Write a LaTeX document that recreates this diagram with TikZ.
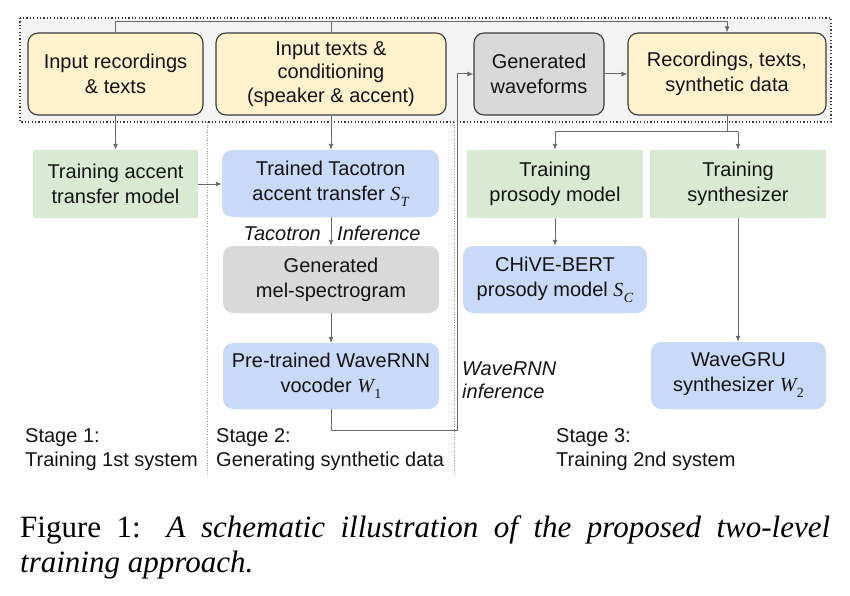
\documentclass[tikz,border=0pt]{standalone}
\usepackage{fontspec}
\setmainfont{Liberation Sans}
\newfontfamily\timesf{Liberation Serif}
\usetikzlibrary{arrows.meta}
\definecolor{yel}{HTML}{FFF2CC}
\definecolor{gry}{HTML}{D9D9D9}
\definecolor{grn}{HTML}{D9EAD3}
\definecolor{blu}{HTML}{C9DAF8}
\definecolor{cont}{HTML}{F3F3F3}
\definecolor{bord}{HTML}{3A3A3A}
\definecolor{arrc}{HTML}{6B6B6B}
\definecolor{txt}{HTML}{141414}
\newcommand\mvar[2]{{\timesf\itshape #1}\kern0.5pt\raisebox{-6pt}{\fontsize{14}{14}\selectfont\timesf\itshape #2}}
\newcommand\mvarn[2]{{\timesf\itshape #1}\kern0.5pt\raisebox{-6pt}{\fontsize{14}{14}\selectfont\timesf #2}}
\begin{document}
\begin{tikzpicture}[x=1pt,y=-1pt,
  boxbase/.style={align=center, inner sep=0pt, font=\fontsize{20}{25}\selectfont, text=txt},
  ybox/.style={boxbase, draw=bord, line width=1.1pt, fill=yel, rounded corners=10pt},
  graybox/.style={boxbase, draw=bord, line width=1.1pt, fill=gry, rounded corners=10pt},
  melbox/.style={boxbase, fill=gry, rounded corners=10pt},
  greenbox/.style={boxbase, fill=grn},
  bluebox/.style={boxbase, fill=blu, rounded corners=10pt},
  conn/.style={draw=arrc, line width=1pt},
  arr/.style={conn, -{Latex[length=6pt,width=5pt]}},
  lbl/.style={inner sep=0pt, font=\fontsize{20}{24}\selectfont\itshape, text=txt},
  stagelbl/.style={inner sep=0pt, align=left, anchor=north west, font=\fontsize{20}{24}\selectfont, text=txt},
  sep/.style={draw=gray!80, line width=0.7pt, dash pattern=on 1pt off 1.6pt},
  contbox/.style={draw=bord, fill=cont, line width=1.2pt, dash pattern=on 1.2pt off 2.2pt}
]
\useasboundingbox (0,0) rectangle (850,596);

% container
\path[contbox] (20,18) rectangle (831,122);

% separators
\draw[sep] (207.5,122) -- (207.5,474);
\draw[sep] (454.5,122) -- (454.5,474);

% top row
\node[ybox, minimum width=175pt, minimum height=82pt] (rec) at (115.5,74) {Input recordings\\ \& texts};
\node[ybox, minimum width=230pt, minimum height=82pt, font=\fontsize{20}{23.5}\selectfont] (txt) at (331,74) {Input texts \&\\ conditioning\\ (speaker \& accent)};
\node[graybox, minimum width=130pt, minimum height=82pt] (gen) at (539,74) {Generated\\ waveforms};
\node[ybox, minimum width=198pt, minimum height=82pt] (rts) at (727,74) {Recordings, texts,\\ synthetic data};

% stage 1/2 column
\node[greenbox, minimum width=165pt, minimum height=68pt] (tam) at (115.5,184) {Training accent\\ transfer model};
\node[bluebox, minimum width=217pt, minimum height=67pt] (tac) at (330.5,183.5) {Trained Tacotron\\ accent transfer \mvar{S}{T}};
\node[melbox, minimum width=216pt, minimum height=67pt] (mel) at (331,279.5) {Generated\\ mel-spectrogram};
\node[bluebox, minimum width=216pt, minimum height=66pt] (w1) at (331,376) {Pre-trained WaveRNN\\ vocoder \mvarn{W}{1}};

% stage 3
\node[greenbox, minimum width=176pt, minimum height=68pt] (tpm) at (555,184) {Training\\ prosody model};
\node[greenbox, minimum width=176pt, minimum height=68pt] (tsy) at (738,184) {Training\\ synthesizer};
\node[bluebox, minimum width=184pt, minimum height=67pt] (chv) at (555,279.5) {CHiVE-BERT\\ prosody model \mvar{S}{C}};
\node[bluebox, minimum width=175pt, minimum height=67pt] (wgr) at (738.5,375.5) {WaveGRU\\ synthesizer \mvarn{W}{2}};

% helper coordinates
\coordinate (topline) at (0,22);
\coordinate (split) at (727,132);
\coordinate (wr1) at (457,430);

% connectors
\draw[arr] (rec.north) -- (rec.north |- topline) -- (rts.north |- topline) -- (rts.north);
\draw[conn] (txt.north) -- (txt.north |- topline);
\draw[arr] (gen.east) -- (rts.west);
\draw[arr] (w1.south) |- (wr1) |- (gen.west);
\draw[arr] (rec.south) -- (tam.north);
\draw[arr] (txt.south) -- (txt.south |- tac.north);
\draw[arr] (tam.east) -- (tam.east -| tac.west);
\draw[arr] (tac.south -| mel.north) -- (mel.north);
\draw[arr] (mel.south) -- (w1.north);
\draw[conn] (rts.south) -- (split);
\draw[conn] (split -| tpm.north) -- (split -| tsy.north);
\draw[arr] (split -| tpm.north) -- (tpm.north);
\draw[arr] (split -| tsy.north) -- (tsy.north);
\draw[arr] (tpm.south) -- (chv.north);
\draw[arr] (tsy.south) -- (tsy.south |- wgr.north);

% labels
\node[lbl, anchor=base east] (ltaco) at (321,240) {Tacotron};
\node[lbl, anchor=base west] (linf) at (337,240) {Inference};
\node[lbl, anchor=base west] (lwr) at (462,375) {WaveRNN};
\node[lbl, anchor=base west] (lwri) at (462,398) {inference};

% stages
\node[stagelbl] (st1) at (25,428.5) {Stage 1:\\ Training 1st system};
\node[stagelbl] (st2) at (216,428.5) {Stage 2:\\ Generating synthetic data};
\node[stagelbl] (st3) at (556,428.5) {Stage 3:\\ Training 2nd system};

% caption
\node[anchor=base west, inner sep=0pt, font=\timesf\fontsize{31}{35}\selectfont, text=black] (cap1) at (20,537) {\makebox[810pt][s]{Figure 1: \textit{A schematic illustration of the proposed two-level}}};
\node[anchor=base west, inner sep=0pt, font=\timesf\fontsize{31}{35}\selectfont\itshape, text=black] (cap2) at (20,572) {training approach.};
\end{tikzpicture}
\end{document}
